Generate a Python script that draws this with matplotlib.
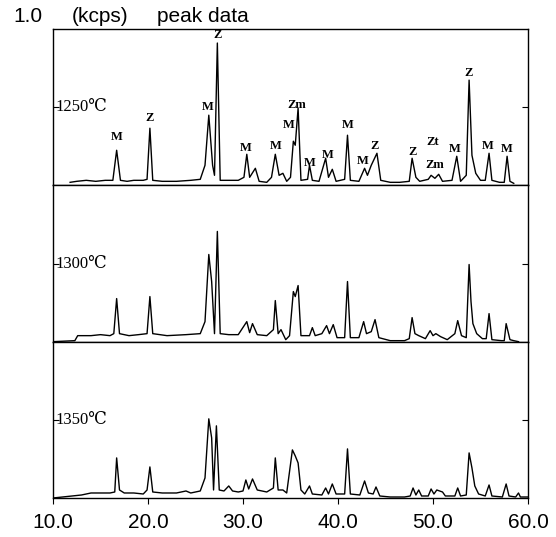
import matplotlib
matplotlib.use('Agg')
import matplotlib.pyplot as plt

# ── Traced patterns (2-theta in deg, intensity in panel counts) ───────────────
TT_1250 = [11.8, 12.5, 13.5, 14.5, 15.5, 16.3, 16.7, 17.1, 17.8, 18.5,
           19.5, 19.9, 20.2, 20.5, 21.5, 23.0, 24.5, 25.5, 26.0, 26.4,
           26.8, 27.0, 27.3, 27.6, 28.5, 29.5, 30.1, 30.4, 30.7, 31.3,
           31.7, 32.5, 33.0, 33.4, 33.8, 34.2, 34.6, 35.0, 35.3, 35.5,
           35.8, 36.1, 36.8, 37.0, 37.3, 38.0, 38.7, 39.0, 39.4, 39.8,
           40.7, 41.0, 41.3, 42.2, 42.8, 43.1, 43.5, 44.1, 44.5, 45.5,
           46.5, 47.5, 47.8, 48.2, 48.6, 49.5, 49.8, 50.2, 50.6, 51.0,
           52.0, 52.5, 52.9, 53.5, 53.8, 54.1, 54.5, 55.0, 55.5, 55.9,
           56.2, 57.0, 57.5, 57.8, 58.1, 58.5]
I_1250 = [3, 4, 5, 4, 5, 5, 35, 5, 4, 5,
          5, 6, 57, 5, 4, 4, 5, 6, 20, 70,
          20, 10, 142, 5, 5, 5, 8, 31, 8, 17,
          4, 3, 8, 31, 10, 12, 4, 8, 44, 40,
          77, 5, 6, 20, 5, 4, 27, 8, 16, 4,
          6, 50, 5, 4, 17, 10, 20, 32, 5, 3,
          3, 4, 27, 8, 4, 6, 10, 7, 11, 4,
          5, 29, 4, 10, 105, 30, 12, 5, 5, 32,
          5, 3, 3, 29, 4, 2]

TT_1300 = [10.0, 12.3, 12.6, 14.0, 15.0, 16.0, 16.4, 16.7, 17.0, 18.0,
           19.0, 19.9, 20.2, 20.5, 22.0, 24.0, 25.5, 26.0, 26.4, 26.7,
           27.0, 27.3, 27.6, 28.5, 29.5, 30.4, 30.7, 31.0, 31.5, 32.5,
           33.2, 33.4, 33.7, 34.0, 34.5, 34.9, 35.3, 35.5, 35.8, 36.1,
           37.0, 37.3, 37.6, 38.3, 38.8, 39.1, 39.5, 39.9, 40.7, 41.0,
           41.3, 42.2, 42.7, 43.0, 43.5, 43.9, 44.3, 45.5, 47.0, 47.5,
           47.8, 48.1, 48.5, 49.2, 49.7, 50.0, 50.3, 50.8, 51.5, 52.3,
           52.6, 53.0, 53.5, 53.8, 54.0, 54.2, 54.6, 55.2, 55.6, 55.9,
           56.2, 57.2, 57.5, 57.7, 58.1, 58.5, 59.0]
I_1300 = [0, 1, 6, 6, 7, 6, 8, 43, 8, 6,
          7, 8, 45, 8, 6, 7, 8, 20, 87, 60,
          8, 110, 8, 7, 7, 20, 9, 18, 7, 6,
          12, 41, 8, 12, 2, 6, 50, 45, 56, 6,
          6, 14, 6, 8, 16, 8, 17, 4, 4, 60,
          4, 4, 20, 8, 10, 22, 4, 1, 1, 3,
          24, 8, 6, 3, 11, 6, 8, 5, 2, 8,
          21, 6, 4, 77, 40, 18, 8, 3, 3, 28,
          2, 1, 1, 18, 2, 1, 0]

TT_1350 = [10.0, 11.0, 12.0, 13.0, 14.0, 15.0, 16.0, 16.5, 16.7, 17.0,
           17.5, 18.5, 19.5, 19.9, 20.2, 20.5, 21.5, 23.0, 24.0, 24.5,
           25.5, 26.0, 26.4, 26.7, 26.9, 27.2, 27.5, 28.0, 28.5, 28.9,
           29.5, 30.0, 30.3, 30.6, 31.0, 31.5, 32.5, 33.2, 33.4, 33.7,
           34.2, 34.6, 35.2, 35.5, 35.8, 36.1, 36.5, 37.0, 37.3, 38.3,
           38.7, 39.0, 39.4, 39.8, 40.7, 41.0, 41.3, 42.3, 42.8, 43.2,
           43.7, 44.0, 44.4, 45.5, 47.0, 47.6, 47.9, 48.2, 48.5, 48.8,
           49.5, 49.8, 50.1, 50.4, 51.0, 51.3, 52.3, 52.6, 52.9, 53.5,
           53.8, 54.1, 54.4, 54.8, 55.5, 55.9, 56.2, 57.3, 57.7, 58.0,
           58.7, 59.0, 59.2, 60.0]
I_1350 = [0, 1, 2, 3, 5, 5, 5, 6, 40, 8,
          5, 5, 4, 8, 31, 6, 5, 5, 7, 5,
          7, 20, 79, 60, 8, 72, 8, 7, 12, 7,
          6, 7, 18, 9, 19, 8, 6, 10, 40, 8,
          8, 5, 48, 42, 35, 8, 4, 12, 4, 3,
          10, 4, 14, 4, 4, 49, 4, 3, 17, 5,
          4, 11, 2, 1, 1, 2, 10, 3, 8, 2,
          2, 9, 4, 8, 6, 2, 2, 10, 2, 3,
          45, 30, 12, 4, 2, 13, 2, 1, 14, 2,
          1, 5, 1, 1]

TEMPS = ['1250℃', '1300℃', '1350℃']

# phase marks on the 1250 pattern (M mullite, Z zircon, Zm / Zt zirconia)
MARK_TEXT = ['M', 'Z', 'M', 'Z', 'M', 'M', 'M', 'Zm', 'M', 'M',
             'M', 'M', 'Z', 'Z', 'Zt', 'Zm', 'M', 'Z', 'M', 'M']
MARK_TT = [16.7, 20.2, 26.3, 27.3, 30.3, 33.4, 34.8, 35.7, 37.0, 38.9,
           41.0, 42.6, 43.8, 47.8, 50.0, 50.2, 52.3, 53.7, 55.8, 57.8]
MARK_I = [48, 67, 78, 150, 37, 39, 60, 80, 22, 30,
          60, 24, 39, 33, 43, 20, 36, 112, 39, 36]

XTICKS = [10, 20, 30, 40, 50, 60]
XTICK_LABELS = ['10.0', '20.0', '30.0', '40.0', '50.0', '60.0']

SANS = ['Liberation Sans', 'DejaVu Sans']
SERIF = ['Liberation Serif', 'DejaVu Serif', 'DejaVu Sans']
YMAX = 156


def style_panel(ax, bottom=False):
    ax.set_xlim(10, 60)
    ax.set_ylim(0, YMAX)
    for sp in ax.spines.values():
        sp.set_linewidth(1.0)
    ax.set_yticks([YMAX / 2])
    ax.set_yticklabels([])
    ax.tick_params(axis='y', direction='in', length=4, left=True, right=True)
    if bottom:
        ax.set_xticks(XTICKS)
        ax.set_xticklabels(XTICK_LABELS, fontsize=15, family=SANS)
        ax.tick_params(axis='x', direction='out', length=4, pad=7)
    else:
        ax.set_xticks([])


def main():
    fig = plt.figure(figsize=(5.56, 5.37), dpi=100)
    left, right = 53 / 556, 528 / 556
    bot, top = 1 - 498 / 537, 1 - 29 / 537
    h = (top - bot) / 3

    series = [(TT_1250, I_1250), (TT_1300, I_1300), (TT_1350, I_1350)]
    axes = []
    for i, (tt, inten) in enumerate(series):
        ax = fig.add_axes([left, top - (i + 1) * h, right - left, h])
        ax.plot(tt, inten, color='black', lw=1.0)
        style_panel(ax, bottom=(i == 2))
        ax.text(10.3, YMAX / 2, TEMPS[i], family=SERIF, fontsize=12,
                va='center', ha='left')
        axes.append(ax)

    for txt, x, y in zip(MARK_TEXT, MARK_TT, MARK_I):
        axes[0].text(x, y, txt, family=SERIF, fontsize=9, fontweight='bold',
                     ha='center', va='center')

    fig.text(13 / 556, 1 - 16 / 537, '1.0', fontsize=15, family=SANS,
             va='center', ha='left')
    fig.text(72 / 556, 1 - 16 / 537, '(kcps)', fontsize=15, family=SANS,
             va='center', ha='left')
    fig.text(157 / 556, 1 - 16 / 537, 'peak data', fontsize=15, family=SANS,
             va='center', ha='left')

    fig.savefig('out.png', dpi=100, facecolor='white')


if __name__ == '__main__':
    main()
